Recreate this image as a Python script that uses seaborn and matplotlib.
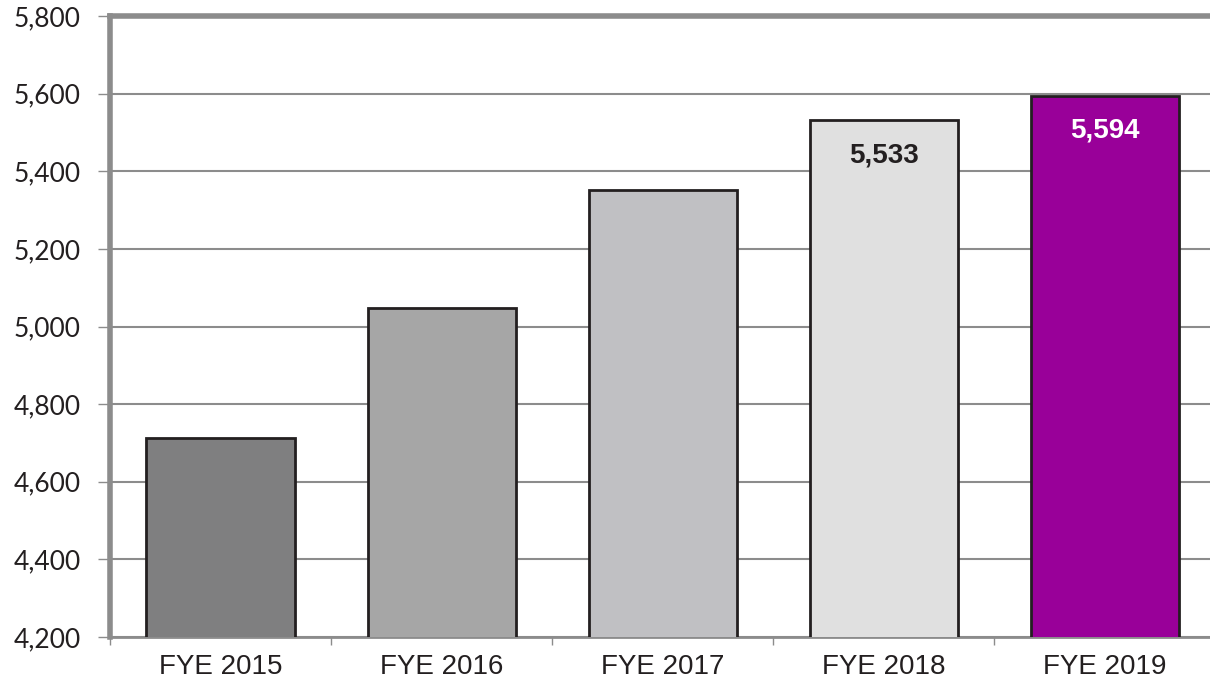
import matplotlib.pyplot as plt
import seaborn as sns
import pandas as pd

# data
categories = ['FYE 2015', 'FYE 2016', 'FYE 2017', 'FYE 2018', 'FYE 2019']
values = [4713, 5048, 5352, 5533, 5594]
bar_colors = ['#7f7f80', '#a6a6a6', '#c0c0c3', '#e0e0e0', '#990099']
y_ticks = list(range(4200, 5801, 200))

sns.set_style('white')
plt.rcParams['font.family'] = ['Liberation Sans', 'DejaVu Sans']

df = pd.DataFrame({'year': categories, 'value': values})

fig = plt.figure(figsize=(12.1, 6.92), dpi=100)
ax = fig.add_axes([110 / 1210, 55 / 692, 1105.5 / 1210, 621 / 692])

sns.barplot(data=df, x='year', y='value', hue='year', palette=bar_colors,
            saturation=1, width=0.67, edgecolor='#231f20', linewidth=2,
            legend=False, ax=ax, zorder=3)

ax.set_ylim(4200, 5800)
ax.set_xlim(-0.5, 4.5)
ax.set_yticks(y_ticks)
ax.set_yticklabels([f'{v:,}' for v in y_ticks], fontsize=19, family='Lato',
                   color='#231f20')
ax.tick_params(axis='x', labelsize=20, length=0, pad=12, labelcolor='#231f20')
ax.tick_params(axis='y', length=9, width=1, color='#8c8c8c', pad=12, left=True)
ax.set_xticks([i + 0.5 for i in range(-1, 5)], minor=True)
ax.tick_params(axis='x', which='minor', length=6, width=1, color='#8c8c8c', bottom=True)

ax.grid(axis='y', color='#8c8c8c', linewidth=1.5, zorder=0)
ax.set_axisbelow(True)
ax.set_xlabel('')
ax.set_ylabel('')

for side in ['left', 'top', 'bottom']:
    ax.spines[side].set_color('#8c8c8c')
ax.spines['left'].set_linewidth(4)
ax.spines['top'].set_linewidth(4)
ax.spines['bottom'].set_linewidth(2)
ax.spines['right'].set_visible(False)

# value labels on the two most recent years
ax.text(3, values[3] - 93, f'{values[3]:,}', ha='center', va='center',
        fontsize=20, fontweight='bold', color='#231f20', zorder=4)
ax.text(4, values[4] - 88, f'{values[4]:,}', ha='center', va='center',
        fontsize=20, fontweight='bold', color='white', zorder=4)

fig.savefig('out.png', dpi=100)
